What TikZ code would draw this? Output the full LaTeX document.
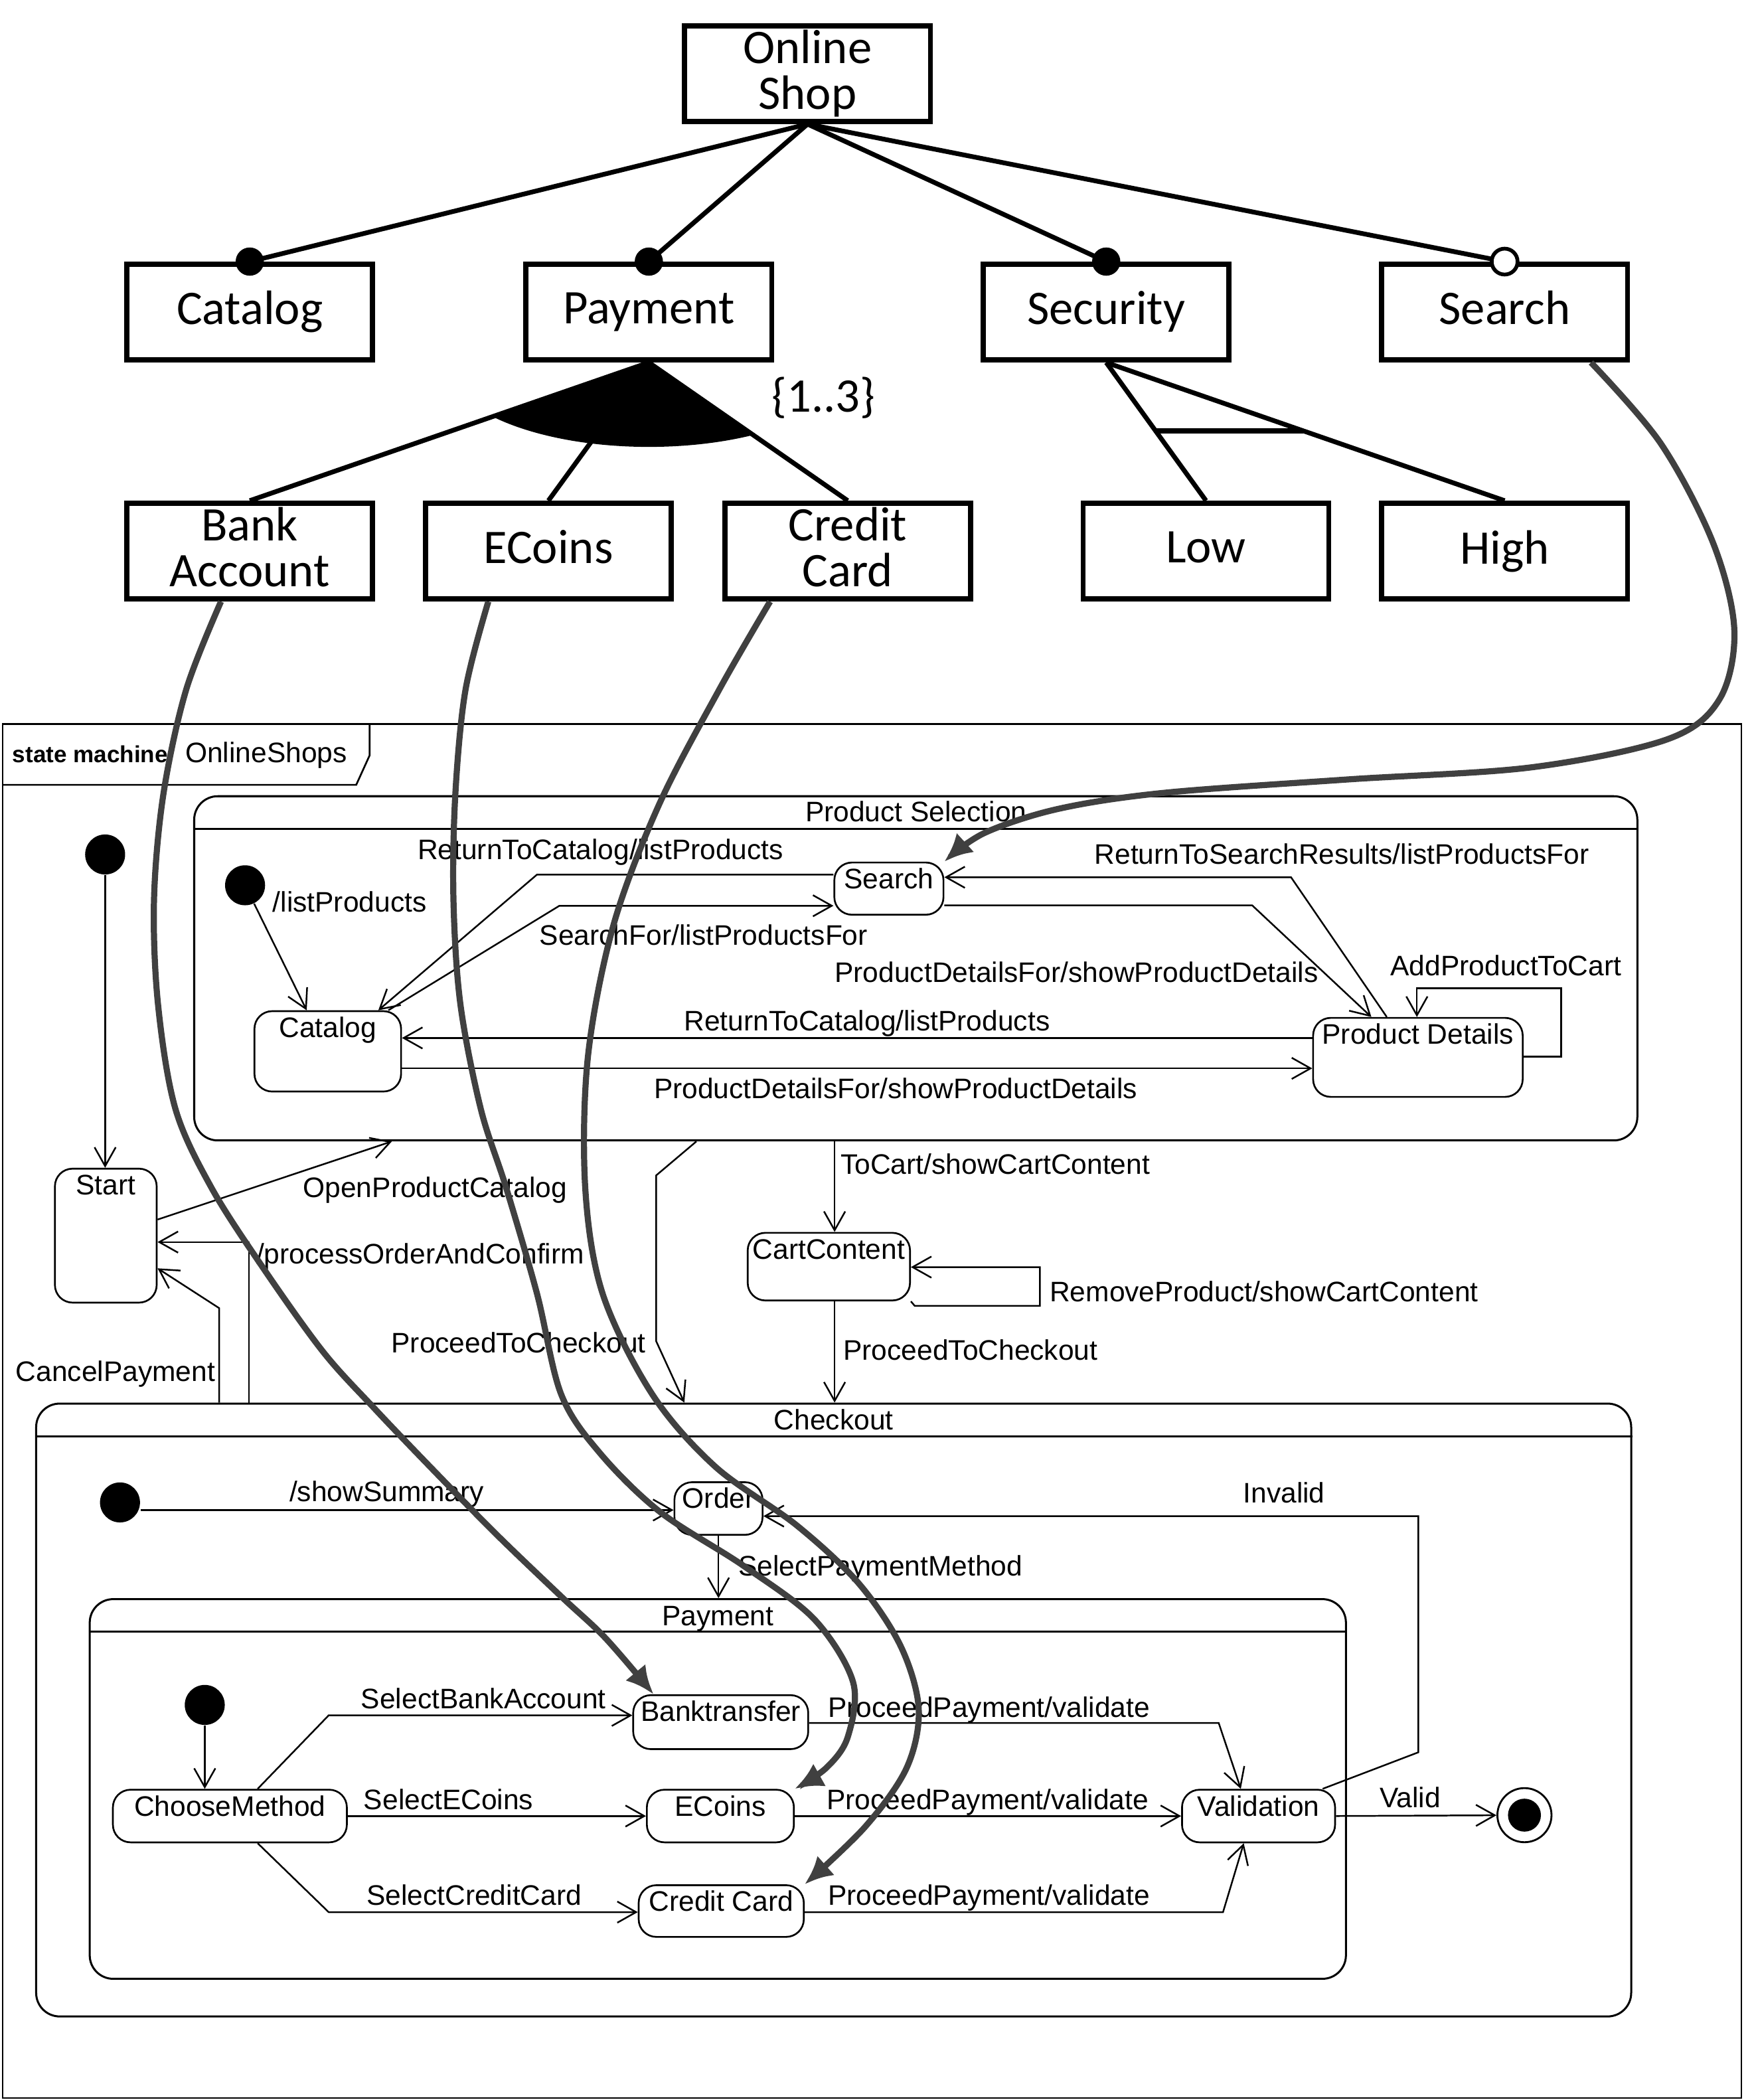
\documentclass[tikz,border=0pt]{standalone}
\usepackage{fontspec}
\usepackage{tikz}
\usetikzlibrary{arrows.meta, fit, calc}
\newfontfamily\fmfont{Carlito}
\newfontfamily\smfont{Liberation Sans}
\definecolor{mapgray}{HTML}{404040}

\tikzset{
  feat/.style={draw, line width=2.2pt, minimum width=3.67cm, minimum height=1.43cm,
    align=center, inner sep=0pt, font={\fmfont\fontsize{20.5}{19.4}\selectfont}},
  fedge/.style={line width=2pt},
  lbl/.style={font={\smfont\fontsize{12}{14}\selectfont}, inner sep=0pt,
    text height=8.6pt, text depth=0pt, anchor=west},
  slbl/.style={lbl, anchor=center, yshift=-7.2pt},
  state/.style={draw, line width=0.75pt, rounded corners=7.5pt, inner sep=0pt,
    label={[slbl]north:#1}},
  region/.style={draw, line width=0.85pt, rounded corners=10pt, inner sep=0pt},
  init/.style={circle, fill, inner sep=0pt, minimum size=17pt},
  final/.style={circle, draw, line width=0.8pt, inner sep=0pt, minimum size=23pt,
    path picture={\fill (path picture bounding box.center) circle (7pt);}},
  tr/.style={line width=0.7pt, -{Straight Barb[length=8pt, width=9pt]}},
  map/.style={line width=2.6pt, mapgray, -{Latex[length=12pt, width=11pt]}}
}

\begin{document}
\begin{tikzpicture}[x=0.02cm, y=-0.02cm]
  \useasboundingbox (0,0) rectangle (1311,1568);

  % Feature model
  \foreach \n/\x/\y/\t in {shop/603/55/{Online\\Shop}, catalog/186.5/233/Catalog,
      payment/484.5/233/Payment, security/826/233/Security, search/1123.5/233/Search,
      bank/186.5/411.5/{Bank\\Account}, ecoins/409.5/411.5/ECoins,
      credit/633/411.5/{Credit\\Card}, low/900.5/411.5/Low, high/1123.5/411.5/High}
    \node[feat] (\n) at (\x,\y) {\t\vphantom{g}};
  \foreach \c in {catalog, payment, security, search}
    \draw[fedge] (shop.south) -- (\c.north);
  \foreach \c in {catalog, payment, security}
    \fill (\c.north) circle (6pt);
  \filldraw[fill=white, line width=1.6pt] (search.north) circle (5.5pt);
  % Or-group below Payment
  \foreach \c in {bank, ecoins, credit}
    \draw[fedge] (payment.south) -- (\c.north);
  \begin{scope}
    \clip (payment.south) -- (bank.north) -- (credit.north) -- cycle;
    \fill (payment.south) ellipse [x radius=152, y radius=63];
  \end{scope}
  \node[font={\fmfont\fontsize{20.5}{24}\selectfont}, inner sep=0pt] (card) at (615,297) {\{1..3\}};
  % Alternative below Security
  \draw[fedge] (security.south) -- (low.north);
  \draw[fedge] (security.south) -- (high.north);
  \draw[fedge] ($(security.south)!0.495!(low.north)$) -- ($(security.south)!0.495!(high.north)$);

  % State machine frame
  \draw[line width=0.75pt] (2,540.5) rectangle (1300.3,1566.5);
  \draw[line width=0.75pt] (2,586) -- (266,586) -- (276,564) -- (276,540.5);
  \node[lbl, font={\smfont\bfseries\fontsize{9.9}{12}\selectfont}] (smkind) at (9,562) {state machine};
  \node[lbl] (smname) at (138,562) {OnlineShops};

  % Composite states
  \node[region, fit={(145,594.5) (1222.6,851.5)}] (ps) {};
  \draw[line width=0.85pt] (ps.west |- 0,619) -- (ps.east |- 0,619);
  \node[lbl, anchor=center] (ps-title) at (684,606) {Product Selection};
  \node[region, fit={(27,1048) (1218,1505.6)}] (co) {};
  \draw[line width=0.85pt] (co.west |- 0,1072.5) -- (co.east |- 0,1072.5);
  \node[lbl, anchor=center] (co-title) at (622.5,1060) {Checkout};
  \node[region, fit={(67,1194) (1005,1477.5)}] (s-pay) {};
  \draw[line width=0.85pt] (s-pay.west |- 0,1218.3) -- (s-pay.east |- 0,1218.3);
  \node[lbl, anchor=center] (pay-title) at (536,1206) {Payment};

  % Simple states
  \node[state=Start, fit={(41,872.6) (117,972.6)}] (s-start) {};
  \node[state=Catalog, fit={(190,755) (299.5,815)}] (s-cat) {};
  \node[state=Search, fit={(623,644) (704.5,683)}] (s-search) {};
  \node[state=Product Details, fit={(980.5,760) (1137,819)}] (s-pd) {};
  \node[state=CartContent, fit={(558.3,920.5) (679.5,971)}] (s-cart) {};
  \node[state=Order, fit={(503.6,1106.7) (569.4,1146)}] (s-order) {};
  \node[state=Banktransfer, fit={(472.8,1265.7) (603.5,1306)}] (s-bank) {};
  \node[state=ECoins, fit={(483,1336.3) (592.8,1375.6)}] (s-ecoins) {};
  \node[state=Credit Card, fit={(476.9,1407.6) (600.2,1446.2)}] (s-cc) {};
  \node[state=ChooseMethod, fit={(84.3,1336.3) (259,1375.6)}] (s-choose) {};
  \node[state=Validation, fit={(882.6,1336.3) (996.9,1375.6)}] (s-valid) {};
  \node[init] (i0) at (78.5,638) {};
  \node[init] (i1) at (183,661) {};
  \node[init] (i2) at (89.6,1121.8) {};
  \node[init] (i3) at (152.9,1273) {};
  \node[final] (fin) at (1138.3,1355.3) {};

  % Top level transitions
  \draw[tr] (i0) -- (i0 |- s-start.north);
  \draw[tr] (s-start.east |- 0,910.6) -- (ps.south -| 292.6,0);
  \node[lbl] (l-open) at (226,886.6) {OpenProductCatalog};
  \draw[tr] (co.north -| 185.8,0) |- (s-start.east |- 0,927.4);
  \node[lbl] (l-confirm) at (191,936.2) {/processOrderAndConfirm};
  \draw[tr] (co.north -| 163.6,0) -- (163.6,976.7) -- (s-start.east |- 0,947);
  \node[lbl] (l-cancel) at (11.5,1023.8) {CancelPayment};
  \draw[tr] (ps.south -| 520,0) -- (490,877.6) -- (490,1001.5) -- (co.north -| 511,0);
  \node[lbl] (l-check1) at (291.9,1002.3) {ProceedToCheckout};
  \draw[tr] (ps.south -| 623.2,0) -- (s-cart.north -| 623.2,0);
  \node[lbl] (l-tocart) at (627.4,869.3) {ToCart/showCartContent};
  \draw[tr] (s-cart.south east) -- (683,975) -- (776.5,975) |- (s-cart.east |- 0,946.1);
  \node[lbl] (l-remove) at (783.5,964.3) {RemoveProduct/showCartContent};
  \draw[tr] (s-cart.south -| 623.2,0) -- (co.north -| 623.2,0);
  \node[lbl] (l-check2) at (629.4,1008) {ProceedToCheckout};

  % Product Selection
  \draw[tr] (i1) -- (s-cat.north -| 229,0);
  \node[lbl] (l-list) at (203.3,673.5) {/listProducts};
  \draw[tr] (s-search.west |- 0,653) -- (401,653) -- (s-cat.north -| 282.5,0);
  \node[lbl] (l-ret1) at (311.5,634.3) {ReturnToCatalog/listProducts};
  \draw[tr] (s-cat.north -| 290,0) -- (417.7,676.3) -- (s-search.west |- 0,676.3);
  \node[lbl] (l-searchfor) at (402.6,698.2) {SearchFor/listProductsFor};
  \draw[tr] (s-pd.north -| 1035.5,0) -- (964,655) -- (s-search.east |- 0,655);
  \node[lbl] (l-retsearch) at (817,637.6) {ReturnToSearchResults/listProductsFor};
  \draw[tr] (s-search.east |- 0,676) -- (935,676) -- (s-pd.north -| 1024,0);
  \node[lbl] (l-pdf1) at (623,726) {ProductDetailsFor/showProductDetails};
  \draw[tr] (s-pd.east |- 0,789) -| (1165.6,738) -| (s-pd.north -| 1058,0);
  \node[lbl] (l-add) at (1038,721) {AddProductToCart};
  \draw[tr] (s-pd.west |- 0,775) -- (s-cat.east |- 0,775);
  \node[lbl] (l-ret2) at (510.5,762) {ReturnToCatalog/listProducts};
  \draw[tr] (s-cat.east |- 0,797.7) -- (s-pd.west |- 0,797.7);
  \node[lbl] (l-pdf2) at (488,812.7) {ProductDetailsFor/showProductDetails};

  % Checkout and Payment
  \draw[tr] (i2.east |- 0,1127.5) -- (s-order.west |- 0,1127.5);
  \node[lbl] (l-summary) at (215.8,1113.5) {/showSummary};
  \draw[tr] (s-valid.23) -- (1059,1308.4) |- (s-order.east |- 0,1132);
  \node[lbl] (l-invalid) at (928,1114.4) {Invalid};
  \draw[tr] (s-order.south) -- (s-order.south |- s-pay.north);
  \node[lbl] (l-selpay) at (551,1168.9) {SelectPaymentMethod};
  \draw[tr] (i3) -- (i3 |- s-choose.north);
  \draw[tr] (s-choose.north -| 192.4,0) -- (245.4,1280.8) -- (s-bank.west |- 0,1280.8);
  \node[lbl] (l-selbank) at (269.3,1268) {SelectBankAccount};
  \draw[tr] (s-choose.east) -- (s-ecoins.west);
  \node[lbl] (l-selecoins) at (271.3,1343.6) {SelectECoins};
  \draw[tr] (s-choose.south -| 192.4,0) -- (245.4,1427.7) -- (s-cc.west |- 0,1427.7);
  \node[lbl] (l-selcc) at (273.4,1414.9) {SelectCreditCard};
  \draw[tr] (s-bank.east |- 0,1286.5) -- (910,1286.5) -- (s-valid.north -| 926.5,0);
  \node[lbl] (l-pp1) at (618,1274.8) {ProceedPayment/validate};
  \draw[tr] (s-ecoins.east) -- (s-valid.west);
  \node[lbl] (l-pp2) at (617,1343.7) {ProceedPayment/validate};
  \draw[tr] (s-cc.east |- 0,1427.8) -- (913.2,1427.8) -- (s-valid.south -| 928.7,0);
  \node[lbl] (l-pp3) at (618,1414.9) {ProceedPayment/validate};
  \draw[tr] (s-valid.east) -- (fin);
  \node[lbl] (l-valid) at (1030,1342) {Valid};

  % Mapping from features to states
  \draw[map] plot[smooth, tension=0.55] coordinates {(search.south -| 1188,0) (1240,331)
    (1279,405) (1295,470) (1284,522) (1245,552) (1143,573) (1006,582) (869,592)
    (790,604) (735,622) (s-search.north east)};
  \draw[map] plot[smooth, tension=0.55] coordinates {(bank.south -| 165,0) (139,515)
    (122,593) (115,672) (118,750) (131,828) (158,887) (196,946) (241,1009) (279,1051)
    (321,1095) (370,1145) (419,1192) (452,1223) (s-bank.north -| 488,0)};
  \draw[map] plot[smooth, tension=0.55] coordinates {(ecoins.south -| 364.6,0) (347.6,515)
    (340,593) (338.6,672) (343.8,750) (359,828) (378,887) (401,966) (419,1041)
    (448,1085) (493,1129) (555,1169) (608,1209) (637,1256) (633,1297) (617,1320)
    (s-ecoins.north east)};
  \draw[map] plot[smooth, tension=0.55] coordinates {(credit.south -| 575,0) (537,515)
    (492,601) (458,691) (439,789) (437,887) (450,966) (487,1041) (534,1095) (595,1139)
    (641,1182) (672.5,1229) (686,1276) (677,1320) (646,1364) (s-cc.north east)};
\end{tikzpicture}
\end{document}
